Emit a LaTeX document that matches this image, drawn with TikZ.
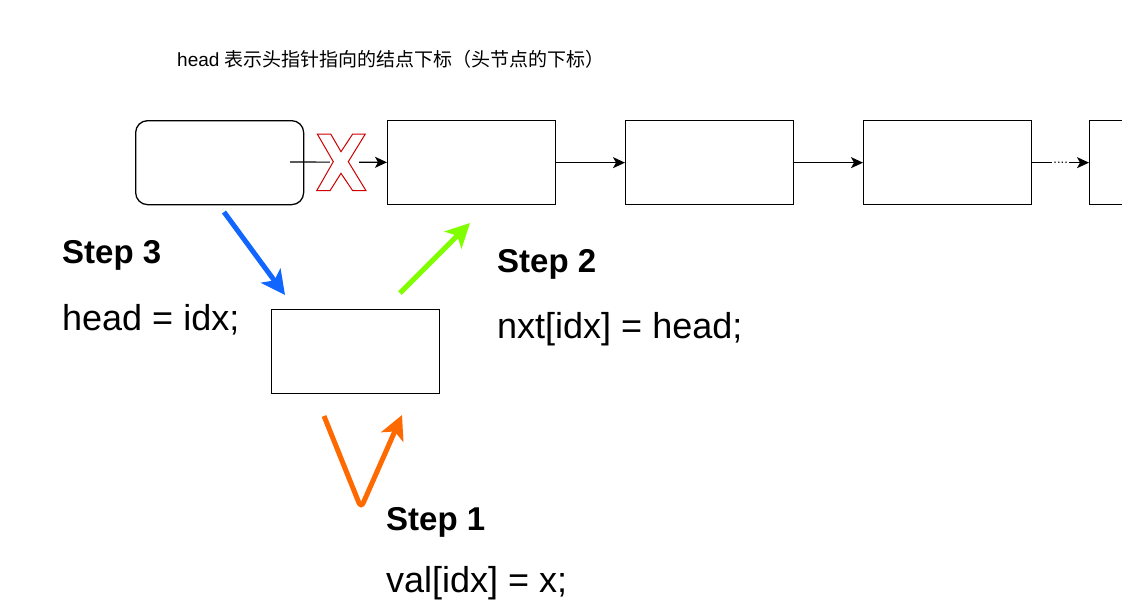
\documentclass[tikz,border=0pt]{standalone}
\usepackage{fontspec}
\setmainfont{Liberation Sans}
\newfontfamily\cjk{Noto Sans CJK SC}
\usetikzlibrary{arrows.meta}
\definecolor{stepblue}{RGB}{17,102,255}
\definecolor{stepgreen}{RGB}{128,255,0}
\definecolor{steporange}{RGB}{255,106,0}
\definecolor{xred}{RGB}{204,0,0}
\begin{document}
\begin{tikzpicture}[x=1pt,y=-1pt,
 box/.style={draw=black, line width=1.3pt, minimum width=168pt, minimum height=84pt, inner sep=0pt, anchor=north west},
 link/.style={draw=black, line width=1.2pt, -{Stealth[length=12pt,width=11pt,inset=3pt]}},
 bigarrow/.style={line width=5pt, -{Stealth[length=24pt,width=24pt,inset=6pt]}},
 codelbl/.style={anchor=base west, inner sep=0pt, font=\fontsize{36}{40}\selectfont},
 steplbl/.style={anchor=base west, inner sep=0pt, font=\bfseries\fontsize{33}{40}\selectfont}
]
\useasboundingbox (0,0) rectangle (1122,614);

\node[anchor=base west, inner sep=0pt, font=\fontsize{19}{21}\selectfont] (title) at (177,66) {head {\cjk 表示头指针指向的结点下标（头节点的下标）}};

\node[box, rounded corners=12pt] (h) at (135,120) {};
\node[box] (n2) at (387,120) {};
\node[box] (n3) at (625,120) {};
\node[box] (n4) at (863,120) {};
\begin{scope}
\clip (0,0) rectangle (1122,614);
\node[box] (n5) at (1089,120) {};
\end{scope}
\node[box] (new) at (271,309) {};

\coordinate (hs) at (290,162);
\draw[link] (hs) -- (n2);
\fill[white] (330,158) rectangle (359,166);
\draw[xred, fill=white, line width=1pt] (317.3,134) -- (330.7,134) -- (341,151.7) -- (352.7,134) -- (365.3,134) -- (348.3,161.7) -- (366,190.7) -- (352.7,190.7) -- (341,173.3) -- (330,190.7) -- (316.7,190.7) -- (333.3,161.7) -- cycle;

\draw[link] (n2) -- (n3);
\draw[link] (n3) -- (n4);
\draw[link] (n4) -- node[fill=white, inner sep=1pt, font=\fontsize{13}{14}\selectfont] {....} (n5);

\coordinate (b1) at (224,212);
\coordinate (b2) at (285,295);
\draw[bigarrow, stepblue] (b1) -- (b2);

\coordinate (g1) at (400,293);
\coordinate (g2) at (470,223);
\draw[bigarrow, stepgreen] (g1) -- (g2);

\coordinate (o1) at (324,416);
\coordinate (o2) at (361,508);
\coordinate (o3) at (402,415);
\draw[bigarrow, steporange, rounded corners=6pt] (o1) -- (o2) -- (o3);

\node[steplbl] (s3) at (62,263) {Step 3};
\node[codelbl] (c3) at (62,330) {head = idx;};
\node[steplbl] (s2) at (497,272) {Step 2};
\node[codelbl] (c2) at (497,338) {nxt[idx] = head;};
\node[steplbl] (s1) at (386,530) {Step 1};
\node[codelbl] (c1) at (386,592) {val[idx] = x;};
\end{tikzpicture}
\end{document}
